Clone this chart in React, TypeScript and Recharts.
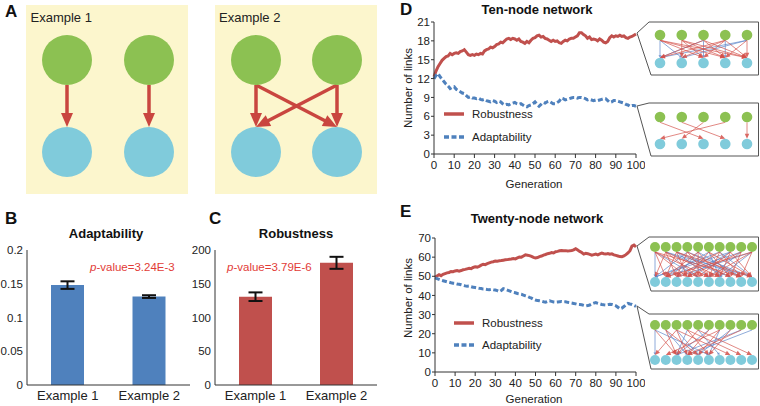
import React from "react";
import {
  BarChart, Bar, ErrorBar, LineChart, Line, ScatterChart, Scatter,
  XAxis, YAxis, ReferenceLine, Legend,
} from "recharts";

const FONT = '"Liberation Sans", Arial, Helvetica, sans-serif';
const RED = "#c0504d";
const BLUE = "#4f81bd";
const GREEN_NODE = "#8cc152";
const CYAN_NODE = "#80cbdb";
const BOX_BG = "#fcf6cd";
const P_RED = "#e23b36";

// panels B / C
const exampleNames = ["Example 1", "Example 2"];
const adaptabilityMean = [0.148, 0.131];
const adaptabilityErr = [0.0056, 0.002];
const robustnessMean = [130.8, 181];
const robustnessErr = [6.4, 8.9];
const adaptTicks = [0, 0.05, 0.1, 0.15, 0.2];
const robustTicks = [0, 50, 100, 150, 200];

// panels D / E  (one value per generation 0..100)
const generations = Array.from({ length: 101 }, (_, i) => i);
const genTicks = [0, 10, 20, 30, 40, 50, 60, 70, 80, 90, 100];
const tenTicks = [0, 3, 6, 9, 12, 15, 18, 21];
const twentyTicks = [0, 10, 20, 30, 40, 50, 60, 70];
const seriesOrder = ["robustness", "adaptability"];

const tenRobust = [
  12.3, 13.2, 13.9, 14.4, 14.9, 15.2, 15.5, 15.6, 16.0, 15.8,
  16.0, 16.1, 16.0, 16.3, 16.4, 16.6, 16.2, 15.8, 15.7, 15.8,
  15.7, 15.9, 15.8, 16.0, 15.9, 16.4, 16.6, 16.7, 17.0, 16.9,
  17.1, 17.4, 17.5, 17.8, 17.7, 18.0, 18.3, 18.4, 18.2, 18.4,
  18.3, 18.1, 18.3, 17.9, 17.8, 17.6, 17.9, 17.7, 18.1, 18.4,
  18.5, 18.8, 18.9, 18.6, 18.7, 18.4, 18.3, 18.1, 17.9, 18.1,
  17.9, 18.0, 17.7, 17.6, 17.9, 18.1, 18.0, 18.3, 18.4, 18.4,
  18.6, 18.8, 19.3, 19.3, 19.0, 18.8, 18.4, 18.6, 18.2, 18.3,
  18.2, 18.0, 18.3, 18.1, 17.8, 17.7, 17.9, 18.5, 18.8, 18.6,
  18.8, 18.7, 18.9, 18.7, 18.8, 18.5, 18.4, 18.6, 18.7, 18.9, 19.1,
];
const tenAdapt = [
  12.0, 12.5, 12.8, 12.3, 11.9, 11.5, 11.1, 10.8, 10.4, 10.6,
  10.7, 10.3, 10.1, 9.9, 9.7, 9.6, 9.3, 9.0, 9.1, 8.9,
  8.9, 8.8, 8.9, 8.7, 8.6, 8.7, 8.5, 8.4, 8.3, 8.5,
  8.4, 8.2, 8.4, 8.3, 8.0, 7.8, 7.9, 7.8, 8.0, 8.1,
  8.2, 8.0, 7.9, 8.0, 7.8, 7.6, 7.5, 7.7, 7.8, 8.0,
  8.3, 7.9, 7.6, 7.9, 8.2, 8.1, 8.3, 8.4, 8.2, 8.0,
  8.0, 8.2, 8.4, 8.9, 8.8, 8.6, 8.7, 8.8, 8.9, 9.0,
  9.0, 8.9, 9.0, 9.0, 8.9, 8.8, 8.6, 8.7, 8.6, 8.5,
  8.6, 8.5, 8.6, 8.7, 8.8, 8.8, 8.5, 8.2, 8.3, 8.5,
  8.5, 8.4, 8.3, 8.2, 8.1, 7.9, 7.8, 7.6, 7.7, 7.7, 7.6,
];
const twentyRobust = [
  49.5, 50.2, 50.8, 50.3, 51.0, 51.4, 51.8, 52.0, 52.5, 52.4,
  52.8, 53.0, 52.7, 53.0, 53.4, 53.6, 53.9, 54.2, 54.0, 54.6,
  55.0, 54.8, 55.2, 55.8, 56.3, 56.1, 56.6, 57.0, 57.4, 57.6,
  58.0, 57.9, 58.1, 58.2, 58.4, 58.6, 58.7, 58.9, 59.0, 59.3,
  59.1, 59.6, 60.1, 60.0, 60.6, 61.2, 61.0, 60.8, 60.4, 59.9,
  59.6, 59.8, 60.3, 60.6, 61.1, 61.4, 61.8, 62.0, 62.4, 62.2,
  62.8, 63.0, 63.3, 63.5, 63.4, 63.4, 63.2, 63.3, 63.5, 63.8,
  64.4, 63.7, 63.0, 62.4, 61.6, 62.0, 61.8, 61.4, 61.0, 61.3,
  61.6, 61.2, 61.7, 62.1, 61.8, 61.6, 61.9, 61.5, 61.7, 61.2,
  60.9, 60.6, 60.3, 60.2, 60.6, 61.3, 62.2, 63.4, 65.8, 66.3, 65.4,
];
const twentyAdapt = [
  49.2, 48.8, 48.4, 48.0, 47.7, 47.4, 47.1, 46.9, 46.6, 46.4,
  46.3, 46.0, 45.8, 45.6, 45.3, 45.0, 44.8, 44.9, 44.5, 44.3,
  44.1, 43.9, 43.7, 43.6, 43.3, 43.3, 43.1, 43.0, 43.2, 42.9,
  42.8, 42.5, 42.0, 42.6, 43.5, 43.2, 42.8, 42.4, 42.0, 41.6,
  41.4, 41.0, 40.8, 40.6, 40.2, 39.8, 39.5, 39.0, 38.6, 38.0,
  37.6, 37.3, 37.2, 37.0, 36.7, 36.5, 36.9, 37.2, 36.9, 36.6,
  36.5, 36.6, 36.7, 36.8, 36.6, 36.7, 36.4, 36.2, 36.0, 35.8,
  35.6, 35.3, 35.2, 35.1, 34.8, 34.5, 34.7, 35.0, 35.6, 36.0,
  36.3, 35.9, 35.6, 35.3, 35.1, 35.0, 35.2, 35.4, 35.3, 35.0,
  34.6, 33.8, 33.0, 33.4, 34.2, 35.0, 35.8, 35.5, 35.3, 34.8, 34.3,
];

// network diagrams: [from green node, to cyan node]
const exampleOneLinks = [[0, 0], [1, 1]];
const exampleTwoLinks = [[0, 0], [0, 1], [1, 0], [1, 1]];
const tenRobustRed = [[0, 2], [0, 3], [0, 4], [1, 1], [1, 2], [1, 4], [2, 0], [2, 3], [2, 4], [3, 1], [3, 2], [3, 4], [4, 3], [4, 4], [1, 3], [3, 0]];
const tenRobustBlue = [[0, 0], [0, 1], [2, 0], [2, 2], [3, 3], [4, 0], [4, 1]];
const tenAdaptRed = [[0, 2], [1, 3], [2, 1], [3, 0], [4, 4]];
const twentyRobustRed = [[0, 1], [0, 3], [0, 5], [1, 0], [1, 2], [1, 4], [1, 6], [2, 1], [2, 3], [2, 7], [3, 2], [3, 5], [3, 8], [4, 1], [4, 4], [4, 6], [5, 3], [5, 7], [5, 9], [6, 2], [6, 5], [6, 8], [7, 4], [7, 6], [7, 9], [8, 3], [8, 7], [9, 5], [9, 8], [0, 8], [2, 9], [9, 1]];
const twentyRobustBlue = [[0, 0], [0, 4], [1, 7], [2, 5], [3, 0], [3, 9], [4, 2], [4, 8], [5, 1], [5, 6], [6, 0], [6, 9], [7, 3], [8, 1], [8, 5], [9, 2], [9, 6], [2, 8], [1, 9], [7, 0]];
const twentyAdaptRed = [[1, 2], [1, 4], [2, 0], [2, 3], [3, 5], [3, 8], [4, 2], [4, 9], [5, 3], [6, 1], [6, 4], [7, 5], [8, 3], [2, 7], [0, 2]];
const twentyAdaptBlue = [[0, 0], [0, 5], [1, 3], [3, 2], [4, 6], [5, 2], [6, 5], [7, 4], [8, 2], [9, 3], [2, 4]];

type ArrowStyle = { color: string; width: number; head: number; headWidth: number; opacity?: number };
const BIG_ARROW: ArrowStyle = { color: "#c9463f", width: 3.5, head: 14, headWidth: 12 };
const SMALL_RED: ArrowStyle = { color: "#d4504a", width: 0.8, head: 5, headWidth: 4.5, opacity: 0.85 };
const SMALL_BLUE: ArrowStyle = { color: "#5b84c9", width: 0.8, head: 2.5, headWidth: 3, opacity: 0.85 };

function makeArrow(style: ArrowStyle, r: number) {
  return (p: any) => {
    let { x1, y1, x2, y2 } = p;
    if (y1 > y2) {
      [x1, x2] = [x2, x1];
      [y1, y2] = [y2, y1];
    }
    const sy = y1 + r;
    const ey = y2 - r;
    const dx = x2 - x1, dy = ey - sy;
    const len = Math.hypot(dx, dy) || 1;
    const ux = dx / len, uy = dy / len;
    const bx = x2 - ux * style.head, by = ey - uy * style.head;
    const nx = (-uy * style.headWidth) / 2, ny = (ux * style.headWidth) / 2;
    return (
      <g opacity={style.opacity ?? 1}>
        <line x1={x1} y1={sy} x2={bx + ux} y2={by + uy} stroke={style.color} strokeWidth={style.width} />
        <polygon points={`${x2},${ey} ${bx + nx},${by + ny} ${bx - nx},${by - ny}`} fill={style.color} />
      </g>
    );
  };
}

function Network({ left, top, width, height, count, margin, r, red, blue = [], redStyle, blueStyle = SMALL_BLUE }: any) {
  const greens = Array.from({ length: count }, (_, i) => ({ x: i, y: 1 }));
  const cyans = Array.from({ length: count }, (_, i) => ({ x: i, y: 0 }));
  const redShape = makeArrow(redStyle, r);
  const blueShape = makeArrow(blueStyle, r);
  return (
    <div style={{ position: "absolute", left, top }}>
      <ScatterChart width={width} height={height} margin={margin}>
        <XAxis type="number" dataKey="x" domain={[0, count - 1]} hide />
        <YAxis type="number" dataKey="y" domain={[0, 1]} hide />
        <Scatter data={greens} isAnimationActive={false}
          shape={(p: any) => <circle cx={p.cx} cy={p.cy} r={r} fill={GREEN_NODE} />} />
        <Scatter data={cyans} isAnimationActive={false}
          shape={(p: any) => <circle cx={p.cx} cy={p.cy} r={r} fill={CYAN_NODE} />} />
        {blue.map((e: number[], i: number) => (
          <ReferenceLine key={"b" + i} segment={[{ x: e[0], y: 1 }, { x: e[1], y: 0 }]} ifOverflow="visible" shape={blueShape} />
        ))}
        {red.map((e: number[], i: number) => (
          <ReferenceLine key={"r" + i} segment={[{ x: e[0], y: 1 }, { x: e[1], y: 0 }]} ifOverflow="visible" shape={redShape} />
        ))}
      </ScatterChart>
    </div>
  );
}

const axisTick = { fill: "#222", fontSize: 11.5, fontFamily: FONT };

function ExampleBars({ left, width, yWidth, means, errs, ticks, color, marginRight }: any) {
  const data = exampleNames.map((name, i) => ({ name, value: means[i], err: errs[i] }));
  return (
    <div style={{ position: "absolute", left, top: 230 }}>
      <BarChart width={width} height={176} data={data} margin={{ top: 20, right: marginRight, bottom: 0, left: 0 }}>
        <XAxis dataKey="name" height={21} tickLine={false} tickSize={3} tickMargin={3}
          axisLine={{ stroke: "#333" }} tick={{ ...axisTick, fontSize: 13 }} />
        <XAxis xAxisId="top" dataKey="name" orientation="top" height={0} tick={false} tickLine={false}
          axisLine={{ stroke: "#333" }} />
        <YAxis domain={[0, ticks[ticks.length - 1]]} ticks={ticks} interval={0} width={yWidth}
          tickLine={false} tickSize={3} tickMargin={1} axisLine={{ stroke: "#333" }} tick={axisTick}
          tickFormatter={(v) => String(v)} />
        <YAxis yAxisId="right" orientation="right" width={0} tick={false} tickLine={false}
          axisLine={{ stroke: "#333" }} />
        <Bar dataKey="value" fill={color} barSize={33} isAnimationActive={false}>
          <ErrorBar dataKey="err" width={7} strokeWidth={2} stroke="#111" direction="y" />
        </Bar>
      </BarChart>
    </div>
  );
}

const smallTick = { fill: "#222", fontSize: 11.5, fontFamily: FONT };

function LinksLegend({ payload, rowHeight }: any) {
  const items = [...(payload || [])].sort(
    (a: any, b: any) => seriesOrder.indexOf(a.dataKey) - seriesOrder.indexOf(b.dataKey)
  );
  return (
    <div style={{ fontFamily: FONT, fontSize: 11.5, color: "#222" }}>
      {items.map((entry: any) => (
        <div key={entry.value} style={{ display: "flex", alignItems: "center", height: rowHeight }}>
          <svg width={20} height={8} style={{ marginRight: 8 }}>
            <line x1={0} y1={4} x2={20} y2={4} stroke={entry.color} strokeWidth={3.5}
              strokeDasharray={entry.dataKey === "adaptability" ? "5 2.5" : undefined} />
          </svg>
          <span>{entry.value}</span>
        </div>
      ))}
    </div>
  );
}

function LinksChart({ left, top, height, margin, yWidth, yTicks, robust, adapt, legendLeft, legendTop, rowHeight }: any) {
  const data = generations.map((g, i) => ({ gen: g, robustness: robust[i], adaptability: adapt[i] }));
  return (
    <div style={{ position: "absolute", left, top }}>
      <LineChart width={250} height={height} data={data} margin={margin}>
        <XAxis type="number" dataKey="gen" domain={[0, 100]} ticks={genTicks} interval={0} height={30}
          tickSize={4} tickMargin={3} axisLine={{ stroke: "#333" }} tickLine={{ stroke: "#333" }} tick={smallTick} />
        <YAxis domain={[0, yTicks[yTicks.length - 1]]} ticks={yTicks} interval={0} width={yWidth}
          tickSize={3} tickMargin={1} axisLine={{ stroke: "#333" }} tickLine={{ stroke: "#333" }} tick={smallTick} />
        <Legend layout="vertical" align="center" verticalAlign="middle"
          wrapperStyle={{ left: legendLeft, top: legendTop, width: 120 }}
          content={(props: any) => <LinksLegend payload={props.payload} rowHeight={rowHeight} />} />
        <Line type="linear" dataKey="robustness" name="Robustness" stroke={RED} strokeWidth={3}
          dot={false} activeDot={false} isAnimationActive={false} />
        <Line type="linear" dataKey="adaptability" name="Adaptability" stroke={BLUE} strokeWidth={3}
          strokeDasharray="5 2.5" dot={false} activeDot={false} isAnimationActive={false} />
      </LineChart>
    </div>
  );
}

const insetMarginTen = { top: 13, right: 12, bottom: 12, left: 11 };
const insetMarginTwenty = { top: 10, right: 7, bottom: 9, left: 6 };

export default function App() {
  return (
    <div style={{ position: "absolute", left: 0, top: 0, width: 760, height: 406, background: "#fff", fontFamily: FONT, overflow: "hidden" }}>
      {/* A */}
      <div style={{ position: "absolute", left: 26, top: 5, width: 162, height: 189, background: BOX_BG }} />
      <div style={{ position: "absolute", left: 215, top: 5, width: 162, height: 189, background: BOX_BG }} />
      <Network left={26} top={5} width={162} height={189} count={2} r={25}
        margin={{ top: 55, right: 39, bottom: 42, left: 41 }} red={exampleOneLinks} redStyle={BIG_ARROW} />
      <Network left={215} top={5} width={162} height={189} count={2} r={25}
        margin={{ top: 55, right: 40, bottom: 42, left: 41 }} red={exampleTwoLinks} redStyle={BIG_ARROW} />

      {/* B, C */}
      <ExampleBars left={0} width={200} yWidth={27} marginRight={10} means={adaptabilityMean}
        errs={adaptabilityErr} ticks={adaptTicks} color={BLUE} />
      <ExampleBars left={185} width={200} yWidth={30} marginRight={8} means={robustnessMean}
        errs={robustnessErr} ticks={robustTicks} color={RED} />

      {/* D, E */}
      <LinksChart left={395} top={0} height={200} margin={{ top: 22, right: 9, bottom: 16, left: 0 }}
        yWidth={39} yTicks={tenTicks} robust={tenRobust} adapt={tenAdapt}
        legendLeft={49} legendTop={103} rowHeight={22.7} />
      <LinksChart left={395} top={200} height={206} margin={{ top: 38, right: 9, bottom: 4, left: 0 }}
        yWidth={40} yTicks={twentyTicks} robust={twentyRobust} adapt={twentyAdapt}
        legendLeft={59} legendTop={112} rowHeight={22} />

      {/* callout frames */}
      <svg width={760} height={406} style={{ position: "absolute", left: 0, top: 0, pointerEvents: "none" }}>
        <g fill="none" stroke="#555" strokeWidth={1}>
          <polygon points="637,33 649,22 758.5,22 758.5,75 651,75" />
          <polygon points="637,106 649,103 758.5,103 758.5,156 651,156" />
          <polygon points="637,246 649,237 758.5,237 758.5,291 651,291" />
          <polygon points="637,306 649,314 758.5,314 758.5,369 651,369" />
        </g>
      </svg>

      <Network left={649} top={22} width={110} height={53} count={5} r={5.3} margin={insetMarginTen}
        red={tenRobustRed} blue={tenRobustBlue} redStyle={SMALL_RED} />
      <Network left={649} top={103} width={110} height={53} count={5} r={5.3} margin={{ ...insetMarginTen, top: 14 }}
        red={tenAdaptRed} redStyle={SMALL_RED} />
      <Network left={649} top={237} width={110} height={54} count={10} r={5} margin={insetMarginTwenty}
        red={twentyRobustRed} blue={twentyRobustBlue} redStyle={SMALL_RED} />
      <Network left={649} top={314} width={110} height={55} count={10} r={5} margin={{ ...insetMarginTwenty, top: 11 }}
        red={twentyAdaptRed} blue={twentyAdaptBlue} redStyle={SMALL_RED} />

      {/* text */}
      <svg width={760} height={406} style={{ position: "absolute", left: 0, top: 0, pointerEvents: "none" }}
        fontFamily={FONT} fill="#222">
        <g fontWeight="bold" fontSize={17} fill="#111">
          <text x={5} y={17}>A</text>
          <text x={5} y={224}>B</text>
          <text x={209} y={224}>C</text>
          <text x={400} y={15}>D</text>
          <text x={400} y={217}>E</text>
        </g>
        <text x={30.5} y={22} fontSize={13}>Example 1</text>
        <text x={219} y={22} fontSize={13}>Example 2</text>
        <g fontWeight="bold" fontSize={13} textAnchor="middle" fill="#111">
          <text x={106} y={238}>Adaptability</text>
          <text x={296} y={238}>Robustness</text>
          <text x={537} y={14}>Ten-node network</text>
          <text x={537} y={223}>Twenty-node network</text>
        </g>
        <g fontSize={11.5} fill={P_RED}>
          <text x={90} y={271}><tspan fontStyle="italic">p</tspan>-value=3.24E-3</text>
          <text x={227} y={271}><tspan fontStyle="italic">p</tspan>-value=3.79E-6</text>
        </g>
        <g fontSize={11.5} textAnchor="middle">
          <text transform="translate(412,88) rotate(-90)">Number of links</text>
          <text transform="translate(412,298) rotate(-90)">Number of links</text>
          <text x={534} y={188}>Generation</text>
          <text x={534} y={403}>Generation</text>
        </g>
      </svg>
    </div>
  );
}
